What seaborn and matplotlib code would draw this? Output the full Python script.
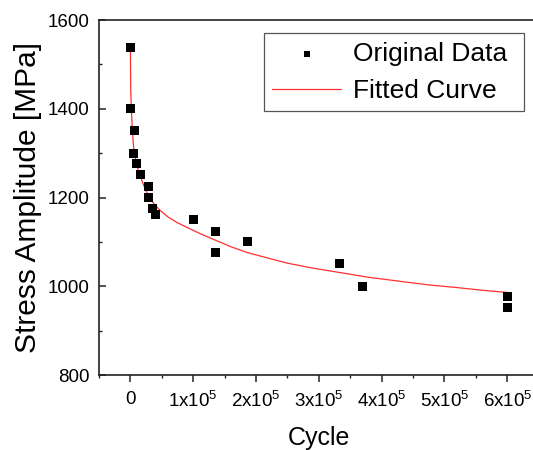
import matplotlib
matplotlib.use("Agg")
import matplotlib.pyplot as plt
import seaborn as sns
import numpy as np
import pandas as pd
from matplotlib.ticker import MultipleLocator, FuncFormatter

# Original data (cycles, stress amplitude)
cycles = [0, 0, 6000, 5000, 10000, 16000, 29000, 29000, 35000, 40000,
          100000, 135000, 135000, 186000, 333000, 370000, 600000, 600000]
stress = [1537, 1400, 1350, 1300, 1276, 1251, 1225, 1200, 1175, 1162,
          1150, 1124, 1075, 1100, 1051, 1000, 976, 951]

# Fitted curve
fit_cycles = [0, 500, 1500, 3000, 5000, 8500, 14000, 21000, 29000, 38000,
              48000, 60000, 75000, 100000, 115000, 135000, 160000, 186000,
              215000, 250000, 290000, 333000, 380000, 430000, 475000,
              520000, 560000, 600000]
fit_stress = [1537, 1440, 1400, 1355, 1315, 1282, 1255, 1228, 1203, 1185,
              1170, 1156, 1143, 1126, 1116, 1104, 1089, 1076,
              1065, 1052, 1041, 1031, 1020, 1011, 1003,
              997, 991, 986]

x_ticks = [0, 100000, 200000, 300000, 400000, 500000, 600000]
y_ticks = [800, 1000, 1200, 1400, 1600]

sns.set_style("ticks")
plt.rcParams["font.family"] = ["Liberation Sans", "DejaVu Sans"]
plt.rcParams["mathtext.default"] = "regular"
plt.rcParams["text.color"] = "black"
plt.rcParams["axes.labelcolor"] = "black"
plt.rcParams["xtick.color"] = "black"
plt.rcParams["ytick.color"] = "black"

fig = plt.figure(figsize=(5.33, 4.5), dpi=100)
ax = fig.add_axes([99 / 533, 75 / 450, 439.7 / 533, 355 / 450])

df = pd.DataFrame({"Cycle": cycles, "Stress": stress})
fit = pd.DataFrame({"Cycle": fit_cycles, "Stress": fit_stress})

sns.scatterplot(data=df, x="Cycle", y="Stress", marker="s", s=42,
                color="black", edgecolor="none", linewidth=0,
                label="Original Data", ax=ax, zorder=3)
sns.lineplot(data=fit, x="Cycle", y="Stress", sort=False, estimator=None,
             color="#ff3030", linewidth=0.9, label="Fitted Curve", ax=ax,
             zorder=2)

ax.set_xlim(-50000, 650000)
ax.set_ylim(800, 1600)
ax.set_xticks(x_ticks)
ax.set_yticks(y_ticks)
ax.xaxis.set_minor_locator(MultipleLocator(50000))
ax.yaxis.set_minor_locator(MultipleLocator(100))


def fmt(v, pos):
    if abs(v) < 1:
        return "0"
    return r"%dx10$^{5}$" % int(round(v / 1e5))


ax.xaxis.set_major_formatter(FuncFormatter(fmt))

for s in ax.spines.values():
    s.set_visible(True)
    s.set_linewidth(1.2)
    s.set_color("#222222")

ax.tick_params(axis="x", which="major", direction="out", length=5, width=1.1,
               labelsize=13.5, pad=6.5, color="#222222", top=False)
ax.tick_params(axis="x", which="minor", direction="out", length=2.5, width=1.0,
               color="#222222", top=False)
ax.tick_params(axis="y", which="major", direction="in", length=5, width=1.1,
               labelsize=13.5, pad=7, color="#222222", right=False)
ax.tick_params(axis="y", which="minor", direction="in", length=2.5, width=1.0,
               color="#222222", right=False)

ax.set_xlabel("Cycle", fontsize=18, labelpad=11)
ax.set_ylabel("Stress Amplitude [MPa]", fontsize=21.5, labelpad=4)

x0 = (264 - 99) / 439.7
w = 260 / 439.7
top = 0.963
leg = ax.legend(loc="upper left", bbox_to_anchor=(x0, top - 0.3, w, 0.3),
                mode="expand", borderaxespad=0, fontsize=19, frameon=True,
                fancybox=False, edgecolor="#555555", framealpha=1,
                handlelength=2.6, handletextpad=0.45, borderpad=0.32,
                labelspacing=0.5, markerscale=0.7)
leg.get_frame().set_linewidth(0.9)

fig.savefig("out.png", dpi=100)
